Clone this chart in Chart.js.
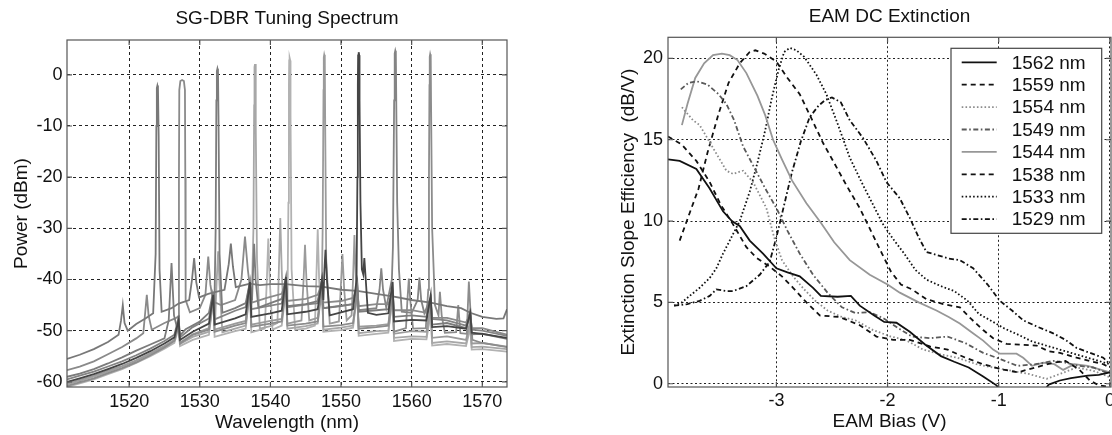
<!DOCTYPE html>
<html><head><meta charset="utf-8">
<script src="https://cdn.jsdelivr.net/npm/chart.js@4.4.1/dist/chart.umd.min.js"></script>
<style>
html,body{margin:0;padding:0;background:#fff;}
#wrap{position:relative;width:1112px;height:435px;overflow:hidden;background:#fff;}
canvas{position:absolute;top:0;}
#c1{left:0;} #c2{left:556px;}
</style></head><body>
<div id="wrap"><canvas id="c1" width="556" height="435" style="width:556px;height:435px"></canvas><canvas id="c2" width="556" height="435" style="width:556px;height:435px"></canvas></div>
<script>
// ---------- Left panel: SG-DBR tuning spectrum (wavelength nm, power dBm) ----------
const wavelengthTicks = [1520, 1530, 1540, 1550, 1560, 1570];
const powerTicks = [-60, -50, -40, -30, -20, -10, 0];

const trace1524 = [[1511.2,-55.5],[1513,-54.7],[1515,-53.6],[1517,-52.2],[1518.5,-50.8],[1518.85,-48],[1519.1,-45],[1519.35,-48.5],[1519.8,-50],[1521,-48.7],[1522.3,-47.6],[1523.4,-46.6],[1523.75,-35],[1523.85,-10],[1523.92,-2.6],[1524.0,-2.1],[1524.08,-2.6],[1524.18,-12],[1524.3,-38],[1524.6,-46.3],[1526,-45.6],[1527,-44.7],[1528.5,-44.0],[1528.9,-40],[1529.2,-35.8],[1529.5,-40.5],[1529.9,-43.5],[1531.2,-42.8],[1532,-42.5],[1533.5,-42.0],[1534.1,-37],[1534.4,-33],[1534.7,-37.5],[1535.1,-41.5],[1537.1,-40.8],[1538.5,-41.1],[1540,-40.9],[1542.2,-40.9],[1545,-41.3],[1547.3,-41.4],[1550,-42],[1552.3,-42.2],[1555,-42.8],[1557.3,-43.3],[1560,-44],[1562.7,-44.5],[1565,-45.2],[1567,-45.6],[1568.3,-46.5],[1570,-47.3],[1572,-47.7],[1573.0,-47.6],[1573.5,-45.8]];
const trace1527 = [[1511.2,-57.7],[1513,-57],[1515,-56],[1517,-54.6],[1519,-53.2],[1521,-51.5],[1522.0,-50.5],[1522.3,-46],[1522.5,-43],[1522.75,-47],[1523.2,-49.8],[1525,-48.5],[1526.5,-47.6],[1527.0,-47.2],[1527.05,-20],[1527.1,-3],[1527.25,-1.2],[1527.5,-1.0],[1527.75,-1.2],[1527.9,-3],[1527.95,-20],[1528.0,-44],[1528.6,-46.4],[1530,-45.6],[1530.8,-43],[1531.2,-35.5],[1531.5,-41],[1531.9,-44.3],[1533,-45],[1535,-44],[1535.9,-40],[1536.4,-31.6],[1536.8,-38],[1537.1,-41.5],[1537.4,-44.5],[1539.5,-43.6],[1541.6,-42.8],[1542.2,-40.5],[1542.4,-44.2],[1545,-43.8],[1546.7,-43],[1547.3,-40.8],[1547.5,-44.5],[1550,-44.2],[1551.7,-43.6],[1552.3,-41.5],[1552.5,-45.2],[1555,-44.8],[1556.7,-44.8],[1557.3,-42.5],[1557.5,-46],[1560,-46],[1562.1,-46.5],[1562.7,-44.5],[1562.9,-47.5],[1565,-47.5],[1567.7,-48.4],[1568.3,-46.8],[1568.5,-49.5],[1570,-49.5],[1573.5,-50.8]];
const trace1532 = [[1511.2,-59],[1513,-58.4],[1515,-57.5],[1517,-56.4],[1519,-55.2],[1521,-53.9],[1523,-52.7],[1525,-51.5],[1525.6,-48],[1526.0,-36.8],[1526.35,-47],[1526.8,-49.5],[1527.0,-47],[1527.15,-51],[1528,-49.7],[1530,-48.2],[1531.3,-46.5],[1531.8,-43],[1532.05,-47],[1532.25,-30],[1532.35,-5],[1532.42,0.7],[1532.5,1.2],[1532.58,0.7],[1532.65,-8],[1532.8,-35],[1533.2,-46.5],[1535,-45.6],[1536.5,-44.6],[1537.1,-40.5],[1537.4,-44],[1537.55,-38],[1537.7,-33],[1537.9,-40],[1538.3,-45.5],[1540,-44.6],[1541.6,-43.8],[1542.2,-39.5],[1542.4,-45.2],[1545,-44.8],[1546.7,-44.2],[1547.3,-40],[1547.5,-45.6],[1550,-45.2],[1551.7,-44.8],[1552.3,-40.5],[1552.5,-46.3],[1555,-46],[1556.7,-45.8],[1557.3,-41.5],[1557.5,-47.3],[1560,-47],[1562.1,-47.3],[1562.7,-44],[1562.9,-48.8],[1565,-48.5],[1567.7,-49.5],[1568.3,-47],[1568.5,-50.7],[1570,-50.6],[1573.5,-51.6]];
const trace1538 = [[1511.2,-60.5],[1513,-59.8],[1515,-59],[1517,-58],[1519,-57],[1521,-55.9],[1523,-54.5],[1525,-53],[1526.4,-51.8],[1527.0,-49],[1527.2,-52.6],[1529,-51.2],[1531.3,-50.2],[1531.9,-44],[1532.15,-49],[1532.4,-40],[1532.6,-34.5],[1532.8,-41],[1533.2,-50.3],[1535,-49.6],[1536.5,-49],[1537.1,-42],[1537.3,-47],[1537.6,-30],[1537.7,-6],[1537.75,1.5],[1537.82,2.1],[1537.9,1.5],[1537.95,-10],[1538.1,-36],[1538.5,-49.6],[1540,-49.1],[1541.0,-48.5],[1541.2,-38],[1541.4,-28],[1541.6,-38],[1541.8,-45],[1542.2,-42],[1542.4,-49.6],[1545,-49.1],[1546.7,-48.6],[1547.3,-41.5],[1547.5,-49.8],[1550,-49.4],[1551.7,-49],[1552.3,-42.5],[1552.5,-50.5],[1555,-50.1],[1556.7,-50],[1557.3,-43.5],[1557.5,-51.4],[1560,-51.1],[1562.1,-51.2],[1562.7,-46],[1562.9,-52.4],[1565,-52.1],[1567.7,-52.5],[1568.3,-49],[1568.5,-53.2],[1570,-53.1],[1573.5,-53.6]];
const trace1543 = [[1511.2,-61],[1513,-60.3],[1515,-59.5],[1517,-58.5],[1519,-57.5],[1521,-56.3],[1523,-55],[1525,-53.5],[1526.4,-52.4],[1527.0,-49.5],[1527.2,-53],[1529,-51.8],[1531.3,-50.8],[1531.9,-44],[1532.1,-51.2],[1535,-50.1],[1536.5,-49.6],[1537.1,-42],[1537.3,-50.3],[1539.2,-49.6],[1539.5,-40],[1539.7,-32],[1539.9,-40],[1540.3,-49.8],[1541.6,-49],[1542.2,-42],[1542.4,-47],[1542.55,-25],[1542.62,-2],[1542.66,2.8],[1542.72,3.3],[1542.8,2.8],[1542.85,-8],[1543.0,-38],[1543.5,-49.8],[1545,-49.6],[1546.3,-49],[1546.5,-40],[1546.7,-30.2],[1546.9,-40],[1547.1,-45],[1547.3,-41],[1547.5,-50.2],[1550,-49.9],[1551.7,-49.4],[1552.3,-42],[1552.5,-51],[1555,-50.6],[1556.7,-50.4],[1557.3,-43],[1557.5,-52],[1560,-51.6],[1562.1,-51.7],[1562.7,-46.5],[1562.9,-52.9],[1565,-52.6],[1567.7,-53],[1568.3,-49.5],[1568.5,-53.7],[1570,-53.6],[1573.5,-54.1]];
const trace1548 = [[1511.2,-60.3],[1513,-59.6],[1515,-58.8],[1517,-57.8],[1519,-56.9],[1521,-55.8],[1523,-54.4],[1525,-53],[1526.4,-51.8],[1527.0,-48.5],[1527.2,-52.3],[1529,-50.7],[1531.3,-49.5],[1531.9,-43],[1532.1,-49.8],[1535,-48.6],[1536.5,-48.1],[1537.1,-41],[1537.3,-48.8],[1540,-48.1],[1541.6,-47.7],[1542.2,-40.5],[1542.4,-48.6],[1544.4,-48],[1544.7,-40],[1544.9,-33.2],[1545.1,-40],[1545.5,-48],[1546.7,-47.5],[1547.3,-40],[1547.4,-30],[1547.52,-3],[1547.56,3.4],[1547.62,3.9],[1547.7,3.4],[1547.75,-8],[1547.9,-36],[1548.4,-48.6],[1549.7,-48.2],[1549.95,-42],[1550.2,-35],[1550.45,-42],[1550.8,-48],[1551.5,-47],[1551.7,-40],[1551.9,-31.3],[1552.1,-40],[1552.3,-44],[1552.5,-49.2],[1555,-49],[1556.7,-48.7],[1557.3,-42],[1557.5,-50.6],[1560,-50.1],[1562.1,-50.2],[1562.7,-45],[1562.9,-51.4],[1565,-51.1],[1567.7,-51.8],[1568.3,-48],[1568.5,-52.5],[1570,-52.4],[1573.5,-53.1]];
const trace1552 = [[1511.2,-60],[1513,-59.3],[1515,-58.5],[1517,-57.5],[1519,-56.5],[1521,-55.3],[1523,-54],[1525,-52.5],[1526.4,-51.3],[1527.0,-48],[1527.2,-51.8],[1529,-50.2],[1531.3,-48.6],[1531.9,-43],[1532.1,-48.8],[1535,-47.6],[1536.5,-46.8],[1537.1,-40.5],[1537.3,-47.3],[1540,-46.6],[1541.6,-46.1],[1542.2,-39.5],[1542.4,-46.8],[1545,-46.3],[1546.7,-45.8],[1547.3,-40],[1547.5,-44],[1547.65,-38],[1547.8,-34.2],[1548.0,-40],[1548.4,-47],[1550,-46.4],[1551.7,-45.8],[1552.2,-40],[1552.32,-20],[1552.38,-2],[1552.42,3.8],[1552.5,4.4],[1552.58,3.8],[1552.62,-5],[1552.75,-25],[1552.95,-38],[1553.15,-39],[1553.3,-35.8],[1553.5,-40],[1553.8,-46.5],[1555,-46.9],[1556.7,-46.6],[1557.3,-40.5],[1557.5,-48.2],[1560,-47.9],[1562.1,-48],[1562.7,-43],[1562.9,-49.3],[1565,-49.1],[1567.7,-49.6],[1568.3,-46.5],[1568.5,-50.4],[1570,-50.6],[1573.5,-51.4]];
const trace1558 = [[1511.2,-59.5],[1513,-58.8],[1515,-58],[1517,-57],[1519,-56],[1521,-54.8],[1523,-53.5],[1525,-52],[1526.4,-50.8],[1527.0,-47.5],[1527.2,-51.3],[1529,-49.3],[1531.3,-47.6],[1531.9,-43.5],[1532.1,-47.8],[1535,-46.1],[1536.5,-45.4],[1537.1,-40.5],[1537.3,-45.8],[1540,-45.1],[1541.6,-44.7],[1542.2,-40],[1542.4,-45.4],[1545,-44.9],[1546.7,-44.6],[1547.3,-40.5],[1547.5,-45.6],[1550,-45.1],[1551.7,-44.8],[1552.3,-41],[1552.5,-46],[1555,-45.6],[1555.45,-42],[1555.7,-37.8],[1555.95,-42],[1556.4,-45.5],[1557.2,-40],[1557.35,-33.6],[1557.52,-5],[1557.6,4.2],[1557.68,4.7],[1557.76,4.2],[1557.82,-5],[1557.95,-25],[1558.2,-38],[1558.6,-46.3],[1560,-46.5],[1560.85,-44],[1561.1,-39.6],[1561.35,-44],[1561.8,-46.6],[1562.7,-43.5],[1562.9,-47.7],[1565,-48],[1567.7,-49],[1568.3,-46],[1568.5,-49.8],[1570,-50],[1573.5,-51]];
const trace1563 = [[1511.2,-60.8],[1513,-60.1],[1515,-59.3],[1517,-58.3],[1519,-57.3],[1521,-56.2],[1523,-54.8],[1525,-53.3],[1526.4,-52],[1527.0,-48.5],[1527.2,-52.5],[1529,-50.8],[1531.3,-49.8],[1531.9,-43.5],[1532.1,-50.2],[1535,-49],[1536.5,-48.5],[1537.1,-41.5],[1537.3,-49.2],[1540,-48.6],[1541.6,-48.2],[1542.2,-41],[1542.4,-49],[1545,-48.6],[1546.7,-48.2],[1547.3,-41],[1547.5,-49.2],[1550,-48.9],[1551.7,-48.5],[1552.3,-42],[1552.5,-49.6],[1555,-49.3],[1556.7,-49],[1557.3,-42.5],[1557.5,-50.2],[1559.2,-49.5],[1559.4,-44],[1559.6,-39.8],[1559.8,-44],[1560.2,-49.6],[1562.0,-49.5],[1562.35,-42],[1562.45,-20],[1562.52,-2],[1562.56,3.5],[1562.62,4.0],[1562.7,3.5],[1562.75,-6],[1562.9,-30],[1563.3,-45],[1563.8,-47],[1564.0,-42.4],[1564.25,-47],[1564.7,-50.4],[1566.3,-50.3],[1566.6,-45],[1566.9,-50.5],[1567.8,-50.6],[1568.1,-40.4],[1568.4,-48],[1568.6,-51.8],[1570,-52.4],[1573.5,-53.2]];

// drawing order (first drawn on top) and grey levels
const spectrumSeries = [trace1552, trace1524, trace1532, trace1527, trace1558, trace1563, trace1548, trace1538, trace1543];
const spectrumGreys  = ['#454545', '#787878', '#7c7c7c', '#8a8a8a', '#848484', '#8c8c8c', '#9b9b9b', '#a7a7a7', '#b2b2b2'];

// ---------- Right panel: EAM DC extinction (bias V, slope efficiency dB/V) ----------
const biasTicks = [-3, -2, -1, 0];
const extTicks = [0, 5, 10, 15, 20];
const extLabels = ['1562 nm', '1559 nm', '1554 nm', '1549 nm', '1544 nm', '1538 nm', '1533 nm', '1529 nm'];

const e1562 = [[-3.975,13.8],[-3.87,13.7],[-3.72,13.2],[-3.6,12.0],[-3.48,10.6],[-3.4,10.0],[-3.33,9.7],[-3.24,8.8],[-3.12,8.0],[-3.0,7.1],[-2.9,6.85],[-2.79,6.6],[-2.67,5.9],[-2.6,5.4],[-2.45,5.35],[-2.33,5.4],[-2.25,4.8],[-2.12,4.2],[-2.03,3.8],[-1.92,3.75],[-1.8,3.2],[-1.66,2.4],[-1.52,1.7],[-1.4,1.35],[-1.27,1.0],[-1.14,0.45],[-1.02,-0.1],[-0.95,-0.7],[-0.62,-0.7],[-0.55,-0.05],[-0.45,0.2],[-0.35,0.35],[-0.2,0.5],[-0.1,0.55],[0,0.7]];
const e1559 = [[-3.975,15.2],[-3.85,14.7],[-3.72,13.7],[-3.6,12.4],[-3.5,11.0],[-3.39,9.8],[-3.27,8.4],[-3.18,7.75],[-3.06,7.2],[-2.95,6.6],[-2.85,5.9],[-2.73,5.0],[-2.61,4.2],[-2.43,4.1],[-2.25,3.6],[-2.1,2.9],[-1.95,2.7],[-1.8,2.7],[-1.62,2.3],[-1.46,2.1],[-1.3,1.6],[-1.14,1.2],[-0.98,0.9],[-0.83,0.7],[-0.67,1.0],[-0.51,1.3],[-0.4,1.4],[-0.28,0.9],[-0.18,0.2],[-0.1,-0.1],[0,-0.2]];
const e1554 = [[-3.85,17.0],[-3.75,16.2],[-3.69,15.9],[-3.57,14.5],[-3.45,13.1],[-3.39,12.9],[-3.3,13.1],[-3.21,12.4],[-3.09,10.8],[-3.02,9.0],[-2.95,7.6],[-2.85,6.6],[-2.75,5.8],[-2.65,5.1],[-2.54,4.5],[-2.41,4.1],[-2.29,3.9],[-2.13,3.3],[-1.97,2.9],[-1.84,2.7],[-1.68,2.1],[-1.52,1.8],[-1.37,1.6],[-1.2,1.2],[-1.05,1.0],[-0.89,0.8],[-0.73,0.6],[-0.57,0.3],[-0.45,0.6],[-0.3,1.0],[-0.15,0.8],[0,0.4]];
const e1549 = [[-3.86,18.1],[-3.79,18.5],[-3.72,18.6],[-3.62,18.4],[-3.52,17.8],[-3.45,17.2],[-3.38,16.2],[-3.3,14.6],[-3.2,13.3],[-3.1,12.0],[-3.0,10.8],[-2.9,9.4],[-2.79,8.0],[-2.67,6.7],[-2.54,5.6],[-2.41,4.7],[-2.29,4.35],[-2.16,4.4],[-2.03,4.0],[-1.9,3.4],[-1.78,2.9],[-1.62,2.8],[-1.46,2.9],[-1.3,2.5],[-1.14,1.9],[-0.98,1.5],[-0.83,1.1],[-0.67,1.2],[-0.51,1.4],[-0.4,1.3],[-0.28,1.1],[-0.15,1.0],[0,0.6]];
const e1544 = [[-3.85,15.9],[-3.8,17.2],[-3.73,18.8],[-3.65,19.7],[-3.57,20.2],[-3.49,20.3],[-3.42,20.2],[-3.35,19.9],[-3.27,19.1],[-3.17,17.7],[-3.1,16.5],[-3.03,15.0],[-2.95,13.8],[-2.86,12.5],[-2.73,11.1],[-2.6,9.9],[-2.48,8.7],[-2.34,7.6],[-2.16,6.7],[-2.0,6.1],[-1.89,5.6],[-1.72,5.0],[-1.56,4.5],[-1.45,4.1],[-1.35,3.7],[-1.25,3.2],[-1.14,2.65],[-1.05,2.1],[-0.99,1.85],[-0.84,1.85],[-0.78,1.6],[-0.7,1.1],[-0.6,1.3],[-0.5,1.2],[-0.42,0.85],[-0.32,1.2],[-0.2,1.1],[-0.1,0.9],[0,0.7]];
const e1538 = [[-3.87,8.8],[-3.78,10.5],[-3.7,12.0],[-3.62,14.2],[-3.52,16.6],[-3.43,18.5],[-3.33,19.7],[-3.24,20.4],[-3.19,20.5],[-3.11,20.3],[-3.0,19.8],[-2.9,18.8],[-2.79,17.8],[-2.67,16.1],[-2.58,14.8],[-2.49,13.7],[-2.37,12.2],[-2.25,10.8],[-2.15,9.4],[-2.05,8.0],[-1.97,6.9],[-1.88,6.1],[-1.78,5.8],[-1.65,5.2],[-1.5,4.9],[-1.35,4.7],[-1.25,4.0],[-1.14,3.3],[-1.05,2.8],[-0.93,2.45],[-0.8,2.4],[-0.66,2.35],[-0.55,2.0],[-0.45,1.9],[-0.3,1.6],[-0.18,1.4],[-0.06,1.2],[0,1.0]];
const e1533 = [[-3.92,4.8],[-3.85,5.0],[-3.78,5.4],[-3.69,5.9],[-3.6,6.5],[-3.54,7.1],[-3.48,8.0],[-3.42,8.8],[-3.33,10.0],[-3.24,11.8],[-3.17,13.6],[-3.1,15.6],[-3.04,17.6],[-2.98,19.3],[-2.93,20.4],[-2.88,20.65],[-2.82,20.5],[-2.75,20.1],[-2.64,19.0],[-2.55,17.8],[-2.45,16.0],[-2.34,13.9],[-2.22,12.2],[-2.13,11.0],[-2.04,9.8],[-1.95,8.9],[-1.85,8.0],[-1.75,7.0],[-1.65,6.4],[-1.52,6.0],[-1.4,5.7],[-1.28,5.1],[-1.18,4.3],[-1.05,3.8],[-0.95,3.4],[-0.82,3.0],[-0.7,2.6],[-0.55,2.3],[-0.4,2.0],[-0.25,1.7],[-0.1,1.4],[0,1.2]];
const e1529 = [[-3.92,4.8],[-3.8,4.9],[-3.69,5.1],[-3.6,5.4],[-3.54,5.8],[-3.45,5.7],[-3.39,5.7],[-3.27,6.0],[-3.15,6.7],[-3.06,7.5],[-3.0,9.0],[-2.93,11.0],[-2.86,13.0],[-2.78,14.9],[-2.7,16.4],[-2.62,17.1],[-2.56,17.45],[-2.5,17.6],[-2.42,17.3],[-2.34,16.2],[-2.22,15.1],[-2.1,13.7],[-2.01,12.4],[-1.89,11.4],[-1.8,10.2],[-1.72,9.0],[-1.65,8.1],[-1.55,7.9],[-1.45,7.7],[-1.35,7.6],[-1.23,7.1],[-1.1,6.1],[-0.99,5.1],[-0.88,4.5],[-0.78,3.9],[-0.65,3.5],[-0.51,3.1],[-0.4,2.7],[-0.3,2.2],[-0.18,1.9],[-0.06,1.6],[0,1.2]];

const extSeries = [e1562, e1559, e1554, e1549, e1544, e1538, e1533, e1529];
const extColors = ['#111111', '#111111', '#8c8c8c', '#5a5a5a', '#979797', '#111111', '#111111', '#111111'];
const DASHED = [5, 4], DOTTED = [1.6, 2.2], DASHDOT = [5, 2.5, 1.6, 2.5];
const extDashes = [[], DASHED, DOTTED, DASHDOT, [], DASHED, DOTTED, DASHDOT];

// ---------- shared helpers ----------
Chart.defaults.font.family = "'Liberation Sans', Arial, Helvetica, sans-serif";
Chart.defaults.color = '#111';
const toXY = arr => arr.map(p => ({x: p[0], y: p[1]}));

const framePlugin = {
  id: 'frame',
  afterDatasetsDraw(chart, args, o) {
    const {ctx, chartArea: a} = chart;
    const xs = chart.scales.x, ys = chart.scales.y, L = o.tick;
    ctx.save();
    ctx.setLineDash([]);
    ctx.strokeStyle = o.color; ctx.lineWidth = o.width;
    ctx.beginPath();
    xs.ticks.forEach(t => { const p = xs.getPixelForValue(t.value);
      ctx.moveTo(p, a.bottom); ctx.lineTo(p, a.bottom - L);
      ctx.moveTo(p, a.top); ctx.lineTo(p, a.top + L); });
    ys.ticks.forEach(t => { const p = ys.getPixelForValue(t.value);
      ctx.moveTo(a.left, p); ctx.lineTo(a.left + L, p);
      ctx.moveTo(a.right, p); ctx.lineTo(a.right - L, p); });
    ctx.stroke();
    ctx.strokeRect(a.left, a.top, a.right - a.left, a.bottom - a.top);
    ctx.restore();
  }
};

const legendBoxPlugin = {
  id: 'legendBox',
  afterDraw(chart, args, o) {
    const ctx = chart.ctx;
    ctx.save();
    ctx.fillStyle = '#fff';
    ctx.fillRect(o.x, o.y, o.w, o.h);
    ctx.setLineDash([]);
    ctx.strokeStyle = '#444'; ctx.lineWidth = 1.2;
    ctx.strokeRect(o.x, o.y, o.w, o.h);
    ctx.font = o.font + 'px ' + Chart.defaults.font.family;
    ctx.textBaseline = 'middle'; ctx.textAlign = 'left';
    chart.data.datasets.forEach((ds, i) => {
      const yy = o.row0 + i * o.rowGap;
      ctx.strokeStyle = ds.borderColor; ctx.lineWidth = ds.borderWidth;
      ctx.setLineDash(ds.borderDash || []);
      ctx.beginPath(); ctx.moveTo(o.lineX0, yy); ctx.lineTo(o.lineX1, yy); ctx.stroke();
      ctx.setLineDash([]);
      ctx.fillStyle = '#111';
      ctx.fillText(ds.label, o.textX, yy + 1);
    });
    ctx.restore();
  }
};

function axisFitX(h) { return s => { s.height = h; s.paddingLeft = 0; s.paddingRight = 0; }; }
function axisFitY(w) { return s => { s.width = w; s.paddingTop = 0; s.paddingBottom = 0; }; }

// ---------- left chart ----------
new Chart(document.getElementById('c1'), {
  type: 'line',
  data: {
    datasets: spectrumSeries.map((s, i) => ({
      label: 'trace' + i, data: toXY(s), borderColor: spectrumGreys[i],
      borderWidth: 1.8, pointRadius: 0, tension: 0, fill: false
    }))
  },
  options: {
    responsive: false, animation: false, devicePixelRatio: 1,
    layout: {padding: {left: 0, right: 49, top: 0, bottom: 0}},
    plugins: {
      legend: {display: false}, tooltip: {enabled: false},
      title: {display: true, text: 'SG-DBR Tuning Spectrum', fullSize: false, color: '#111',
        font: {size: 19, weight: 'normal'}, padding: {top: 7, bottom: 10.2}},
      frame: {color: '#555', width: 1.2, tick: 5}
    },
    scales: {
      x: {
        type: 'linear', min: 1511.2, max: 1573.5,
        afterBuildTicks: s => { s.ticks = wavelengthTicks.map(v => ({value: v})); },
        ticks: {font: {size: 18}, padding: 4.2, color: '#111', maxRotation: 0, autoSkip: false, callback: v => String(v)},
        grid: {color: '#222', lineWidth: 1, drawTicks: false},
        border: {display: false, dash: [3, 3]},
        title: {display: true, text: 'Wavelength (nm)', color: '#111', font: {size: 19}, padding: {top: 0, bottom: 0.6}},
        afterFit: axisFitX(48)
      },
      y: {
        type: 'linear', min: -61, max: 6.8,
        afterBuildTicks: s => { s.ticks = powerTicks.map(v => ({value: v})); },
        ticks: {font: {size: 18}, padding: 4.5, color: '#111', autoSkip: false, callback: v => String(v)},
        grid: {color: '#222', lineWidth: 1, drawTicks: false},
        border: {display: false, dash: [3, 3]},
        title: {display: true, text: 'Power (dBm)', color: '#111', font: {size: 19}, padding: {top: 10, bottom: 0}},
        afterFit: axisFitY(67)
      }
    }
  },
  plugins: [framePlugin]
});

// ---------- right chart ----------
new Chart(document.getElementById('c2'), {
  type: 'line',
  data: {
    datasets: extSeries.map((s, i) => ({
      label: extLabels[i], data: toXY(s), borderColor: extColors[i], borderDash: extDashes[i],
      borderWidth: 1.8, pointRadius: 0, tension: 0, fill: false
    }))
  },
  options: {
    responsive: false, animation: false, devicePixelRatio: 1,
    layout: {padding: {left: 0, right: 1, top: 0, bottom: 0}},
    plugins: {
      legend: {display: false}, tooltip: {enabled: false},
      title: {display: true, text: 'EAM DC Extinction', fullSize: false, color: '#111',
        font: {size: 19, weight: 'normal'}, padding: {top: 4.9, bottom: 9.6}},
      frame: {color: '#555', width: 1.2, tick: 5},
      legendBox: {x: 395, y: 48.3, w: 150.7, h: 185, row0: 62.3, rowGap: 22.4, lineX0: 405.7, lineX1: 440.7, textX: 455.7, font: 19}
    },
    scales: {
      x: {
        type: 'linear', min: -3.975, max: 0.01,
        afterBuildTicks: s => { s.ticks = biasTicks.map(v => ({value: v})); },
        ticks: {font: {size: 18}, padding: 3.3, color: '#111', maxRotation: 0, autoSkip: false, callback: v => String(v)},
        grid: {color: '#222', lineWidth: 1, drawTicks: false},
        border: {display: false, dash: [2, 2.5]},
        title: {display: true, text: 'EAM Bias (V)', color: '#111', font: {size: 19}, padding: {top: 0, bottom: 1.9}},
        afterFit: axisFitX(48)
      },
      y: {
        type: 'linear', min: -0.2, max: 21.3,
        afterBuildTicks: s => { s.ticks = extTicks.map(v => ({value: v})); },
        ticks: {font: {size: 18}, padding: 5, color: '#111', autoSkip: false, callback: v => String(v)},
        grid: {color: '#222', lineWidth: 1, drawTicks: false},
        border: {display: false, dash: [2, 2.5]},
        title: {display: true, text: 'Extinction Slope Efficiency  (dB/V)', color: '#111', font: {size: 19}, padding: {top: 61.6, bottom: 0}},
        afterFit: axisFitY(112)
      }
    }
  },
  plugins: [framePlugin, legendBoxPlugin]
});
</script>
</body></html>
